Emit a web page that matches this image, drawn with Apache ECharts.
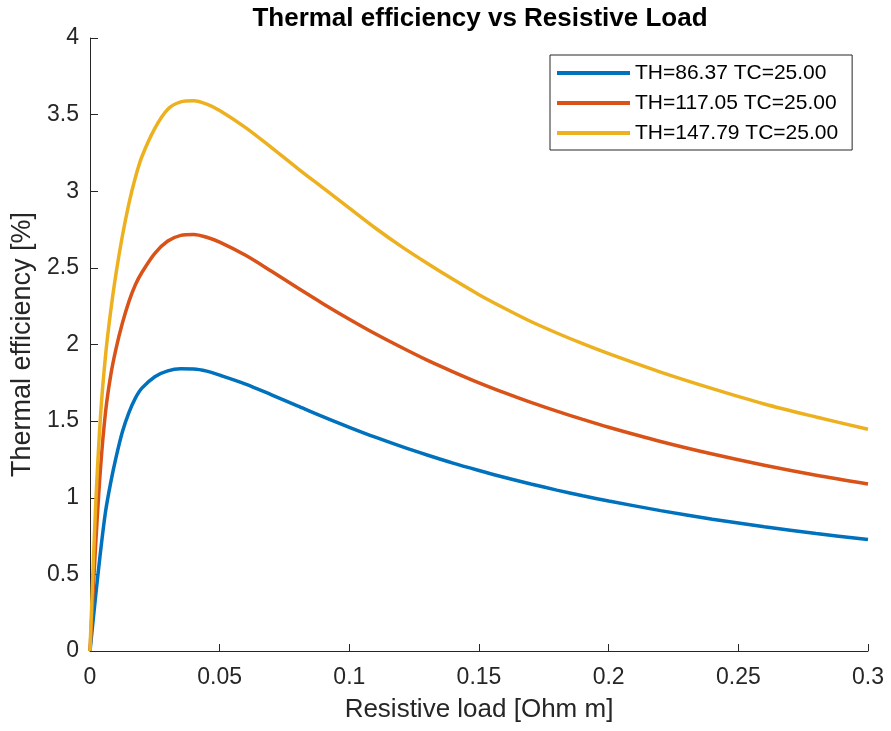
<!DOCTYPE html>
<html>
<head>
<meta charset="utf-8">
<script src="https://cdn.jsdelivr.net/npm/echarts@6/dist/echarts.min.js"></script>
<style>
  html, body { margin: 0; padding: 0; background: #fff; }
  #chart { width: 891px; height: 731px; }
</style>
</head>
<body>
<div id="chart"></div>
<script>
// 负载电阻 (x) 与三条热效率曲线 (y)
const loadValues = [0, 0.002, 0.004, 0.006, 0.008, 0.01, 0.0125, 0.015, 0.0175, 0.02,
  0.025, 0.03, 0.035, 0.04, 0.045, 0.05, 0.06, 0.07, 0.08, 0.09, 0.1,
  0.11, 0.12, 0.13, 0.14, 0.15, 0.16, 0.17, 0.18, 0.19, 0.2,
  0.22, 0.24, 0.26, 0.28, 0.3]

const effTH86 = [0, 0.33, 0.64, 0.91, 1.10, 1.26, 1.43, 1.555, 1.65, 1.715,
  1.79, 1.828, 1.841, 1.84, 1.826, 1.80, 1.742, 1.672, 1.60, 1.528, 1.46,
  1.395, 1.335, 1.279, 1.226, 1.178, 1.132, 1.09, 1.05, 1.013, 0.979,
  0.916, 0.86, 0.811, 0.767, 0.727]

const effTH117 = [0, 0.64, 1.18, 1.56, 1.80, 1.97, 2.14, 2.28, 2.39, 2.47,
  2.595, 2.675, 2.712, 2.718, 2.70, 2.668, 2.582, 2.478, 2.37, 2.265, 2.165,
  2.07, 1.982, 1.898, 1.822, 1.75, 1.684, 1.622, 1.565, 1.511, 1.46,
  1.367, 1.285, 1.212, 1.147, 1.09]

const effTH147 = [0, 0.88, 1.52, 1.93, 2.22, 2.46, 2.71, 2.92, 3.09, 3.225,
  3.41, 3.535, 3.583, 3.59, 3.568, 3.527, 3.415, 3.285, 3.15, 3.02, 2.89,
  2.76, 2.64, 2.53, 2.425, 2.325, 2.235, 2.15, 2.075, 2.005, 1.94,
  1.82, 1.712, 1.612, 1.527, 1.447]

const seriesNames = ['TH=86.37 TC=25.00', 'TH=117.05 TC=25.00', 'TH=147.79 TC=25.00']
const seriesColors = ['#0072BD', '#D95319', '#EDB120']

const xTickLabels = ['0', '0.05', '0.1', '0.15', '0.2', '0.25', '0.3']
const yTickLabels = ['0', '0.5', '1', '1.5', '2', '2.5', '3', '3.5', '4']

const FONT = "'Liberation Sans', Arial, Helvetica, sans-serif"
const AXIS_COLOR = '#262626'

function toPairs(ys) {
  return loadValues.map((x, i) => [x, ys[i]])
}

const chartInstance = echarts.init(document.getElementById('chart'), null, { renderer: 'canvas' })

const option = {
  backgroundColor: '#ffffff',
  animation: false,
  title: {
    text: 'Thermal efficiency vs Resistive Load',
    left: 475,
    top: 1,
    textAlign: 'center',
    textStyle: {
      fontFamily: FONT,
      fontSize: 26,
      fontWeight: 'bold',
      color: '#000'
    }
  },
  grid: {
    left: 90,
    right: 23,
    top: 38,
    bottom: 80
  },
  legend: {
    orient: 'vertical',
    left: 550,
    top: 55,
    icon: 'rect',
    itemWidth: 73,
    itemHeight: 4,
    itemGap: 8,
    padding: [7, 14, 6, 7],
    borderColor: AXIS_COLOR,
    borderWidth: 1,
    backgroundColor: '#fff',
    data: seriesNames,
    textStyle: {
      fontFamily: FONT,
      fontSize: 21,
      lineHeight: 22,
      color: '#000'
    }
  },
  xAxis: {
    type: 'value',
    min: 0,
    max: 0.3,
    interval: 0.05,
    name: 'Resistive load [Ohm m]',
    nameLocation: 'middle',
    nameGap: 46,
    nameTextStyle: { fontFamily: FONT, fontSize: 26, color: AXIS_COLOR },
    axisLine: { show: true, lineStyle: { color: AXIS_COLOR, width: 1 } },
    axisTick: { show: true, inside: true, length: 7, lineStyle: { color: AXIS_COLOR } },
    axisLabel: {
      fontFamily: FONT,
      fontSize: 23,
      color: AXIS_COLOR,
      margin: 15,
      formatter: (v) => xTickLabels[Math.round(v / 0.05)]
    },
    splitLine: { show: false }
  },
  yAxis: {
    type: 'value',
    min: 0,
    max: 4,
    interval: 0.5,
    name: 'Thermal efficiency [%]',
    nameLocation: 'middle',
    nameRotate: 90,
    nameGap: 53,
    nameTextStyle: { fontFamily: FONT, fontSize: 27, color: AXIS_COLOR },
    axisLine: { show: true, lineStyle: { color: AXIS_COLOR, width: 1 } },
    axisTick: { show: true, inside: true, length: 8, lineStyle: { color: AXIS_COLOR } },
    axisLabel: {
      fontFamily: FONT,
      fontSize: 23,
      color: AXIS_COLOR,
      margin: 11,
      formatter: (v) => yTickLabels[Math.round(v / 0.5)]
    },
    splitLine: { show: false }
  },
  series: [effTH86, effTH117, effTH147].map((ys, i) => ({
    name: seriesNames[i],
    type: 'line',
    data: toPairs(ys),
    smooth: 0.3,
    symbol: 'none',
    color: seriesColors[i],
    lineStyle: { color: seriesColors[i], width: 3.5 }
  }))
}

chartInstance.setOption(option)
</script>
</body>
</html>
